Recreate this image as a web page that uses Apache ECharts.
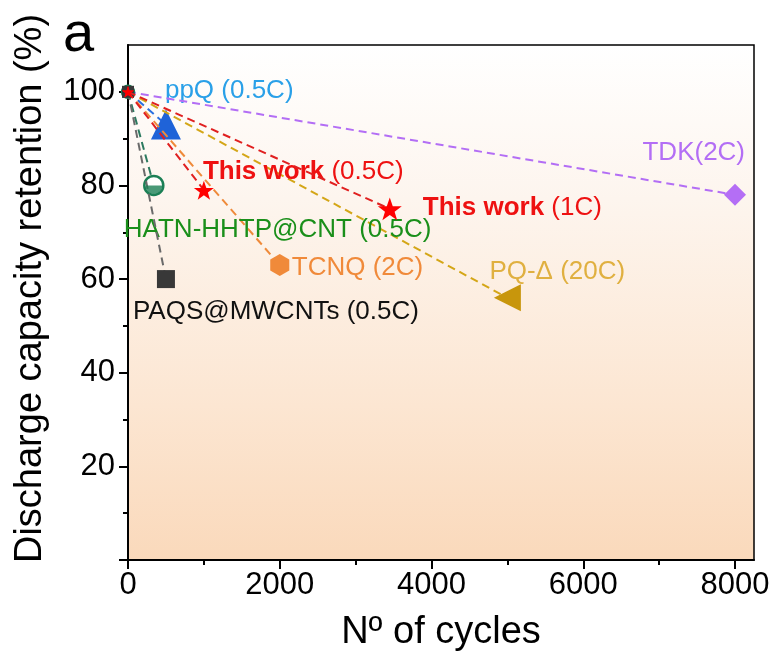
<!DOCTYPE html>
<html>
<head>
<meta charset="utf-8">
<script src="https://cdn.jsdelivr.net/npm/echarts@6/dist/echarts.min.js"></script>
<style>
html,body{margin:0;padding:0;background:#fff;}
#chart{width:779px;height:660px;}
</style>
</head>
<body>
<div id="chart"></div>
<script>
// ---- data ----
const seriesLabels = ['ppQ (0.5C)', 'TDK(2C)', 'PQ-Δ (20C)', 'TCNQ (2C)', 'HATN-HHTP@CNT (0.5C)', 'PAQS@MWCNTs (0.5C)', 'This work (0.5C)', 'This work (1C)'];
const startCycles = [0, 0, 0, 0, 0, 0, 0, 0];
const startRetention = [100, 100, 100, 100, 100, 100, 100, 100];
const endCycles = [500, 8000, 5000, 2000, 340, 500, 1000, 3450];
const endRetention = [93, 78, 56, 63, 80, 60, 79, 75];
const xMajorTicks = [0, 2000, 4000, 6000, 8000];
const xMinorTicks = [1000, 3000, 5000, 7000];
const yMajorTicks = [0, 20, 40, 60, 80, 100];
const yLabelTicks = [20, 40, 60, 80, 100];
const yMinorTicks = [10, 30, 50, 70, 90];

// ---- styles ----
const FONT = 'Liberation Sans, Arial, sans-serif';
const starPath = 'path://M50,0 L61.8,35.1 L97.6,34.5 L69.1,56.7 L79.4,90.5 L50,70 L20.6,90.5 L30.9,56.7 L2.4,34.5 L38.2,35.1 Z';
const hexPath = 'path://M50,0 L93.3,25 L93.3,75 L50,100 L6.7,75 L6.7,25 Z';
const halfDiscPath = 'path://M0,0 L100,0 A50,50 0 0,1 0,0 Z';

const styles = [
  {line:'#2a6fe0', sym:'triangle', size:30, rot:0, fill:'#1f63d8', text:'#2aa0e8', off:[-1,-34], align:'left'},
  {line:'#b36ef5', sym:'diamond', size:22, rot:0, fill:'#b46ef5', text:'#b36ef5', off:[10,-42], align:'right'},
  {line:'#d4a617', sym:'triangle', size:27, rot:90, fill:'#c8960c', text:'#e0b040', off:[-18,-26], align:'left'},
  {line:'#ef8a3a', sym:hexPath, size:22, rot:0, fill:'#f08a3a', text:'#f08a3a', off:[12,3], align:'left'},
  {line:'#2b7a5f', sym:'circle', size:19, rot:0, fill:'#ffffff', border:'#1b7f55', text:'#1a8f1a', off:[-30,44], align:'left'},
  {line:'#6a6a6a', sym:'rect', size:18, rot:0, fill:'#383838', text:'#111111', off:[-33,33], align:'left'},
  {line:'#e02020', sym:starPath, size:20, rot:0, fill:'#ff0000', text:'#ee1111', off:[-1,-18], align:'left', rich:true},
  {line:'#e02020', sym:starPath, size:24, rot:0, fill:'#ff0000', text:'#ee1111', off:[33,-1], align:'left', rich:true}
];
const FS = 26;

const series = seriesLabels.map(function (name, i) {
  const st = styles[i];
  let formatter = name;
  if (st.rich) {
    const m = name.match(/^This work (.*)$/);
    formatter = '{b|This work} {n|' + m[1] + '}';
  }
  const itemStyle = {color: st.fill};
  if (st.border) { itemStyle.borderColor = st.border; itemStyle.borderWidth = 2.5; }
  return {
    type: 'line',
    name: name,
    symbol: st.sym,
    symbolRotate: st.rot,
    symbolKeepAspect: true,
    showAllSymbol: true,
    lineStyle: {color: st.line, width: 2, type: [8, 5]},
    itemStyle: itemStyle,
    z: 3 + i,
    animation: false,
    data: [
      {value: [startCycles[i], startRetention[i]], symbolSize: 12},
      {
        value: [endCycles[i], endRetention[i]],
        symbolSize: st.size,
        label: {
          show: true,
          position: 'inside',
          align: st.align,
          verticalAlign: 'middle',
          offset: st.off,
          formatter: formatter,
          color: st.text,
          fontSize: FS,
          fontFamily: FONT,
          rich: {
            b: {fontWeight: 'bold', color: st.text, fontSize: FS, fontFamily: FONT},
            n: {fontWeight: 'normal', color: st.text, fontSize: FS, fontFamily: FONT}
          }
        }
      }
    ]
  };
});

// lower filled half of the HATN-HHTP@CNT half-filled circle marker
const hatnIndex = 4;
series.push({
  type: 'scatter',
  name: seriesLabels[hatnIndex] + ' fill',
  symbol: halfDiscPath,
  symbolKeepAspect: false,
  symbolSize: [17, 8.5],
  symbolOffset: [0, 4.25],
  itemStyle: {color: '#1b7f55'},
  z: 20,
  animation: false,
  data: [[endCycles[hatnIndex], endRetention[hatnIndex]]]
});

const chart = echarts.init(document.getElementById('chart'), null, {renderer: 'canvas'});
chart.setOption({
  animation: false,
  backgroundColor: '#ffffff',
  grid: {
    left: 128, right: 25, top: 45, bottom: 100,
    show: true,
    borderColor: '#000', borderWidth: 1.5,
    backgroundColor: new echarts.graphic.LinearGradient(0, 0, 0, 1, [
      {offset: 0, color: '#ffffff'},
      {offset: 0.3, color: '#fdf5ee'},
      {offset: 0.7, color: '#fce6d2'},
      {offset: 1, color: '#fad9bb'}
    ])
  },
  xAxis: [
    {
      type: 'value', min: 0, max: 8250, interval: 2000,
      name: 'Nº of cycles', nameLocation: 'middle', nameGap: 54,
      nameTextStyle: {fontSize: 38, color: '#000', fontFamily: FONT},
      axisLine: {show: true, onZero: false, lineStyle: {color: '#000', width: 2}},
      axisTick: {show: true, length: 9, lineStyle: {color: '#000', width: 2}, customValues: xMajorTicks},
      axisLabel: {fontSize: 31, color: '#000', fontFamily: FONT, margin: 10, customValues: xMajorTicks,
        formatter: function (v) { return String(v); }},
      splitLine: {show: false}
    },
    {
      type: 'value', min: 0, max: 8250, position: 'bottom',
      axisLine: {show: false, onZero: false},
      axisTick: {show: true, length: 5, lineStyle: {color: '#000', width: 2}, customValues: xMinorTicks},
      axisLabel: {show: false},
      splitLine: {show: false}
    }
  ],
  yAxis: [
    {
      type: 'value', min: 0, max: 110, interval: 20,
      name: 'Discharge capacity retention (%)', nameLocation: 'middle', nameGap: 78,
      nameTextStyle: {fontSize: 38, color: '#000', fontFamily: FONT, padding: [0, 0, 0, 28]},
      axisLine: {show: true, onZero: false, lineStyle: {color: '#000', width: 2}},
      axisTick: {show: true, length: 9, lineStyle: {color: '#000', width: 2}, customValues: yMajorTicks},
      axisLabel: {fontSize: 31, color: '#000', fontFamily: FONT, margin: 13, customValues: yLabelTicks,
        formatter: function (v) { return String(v); }},
      splitLine: {show: false}
    },
    {
      type: 'value', min: 0, max: 110, position: 'left',
      axisLine: {show: false, onZero: false},
      axisTick: {show: true, length: 5, lineStyle: {color: '#000', width: 2}, customValues: yMinorTicks},
      axisLabel: {show: false},
      splitLine: {show: false}
    }
  ],
  graphic: [
    {type: 'text', left: 63, top: 8, z: 100, style: {text: 'a', fontSize: 56, fill: '#000', fontFamily: FONT}}
  ],
  series: series
});
</script>
</body>
</html>
